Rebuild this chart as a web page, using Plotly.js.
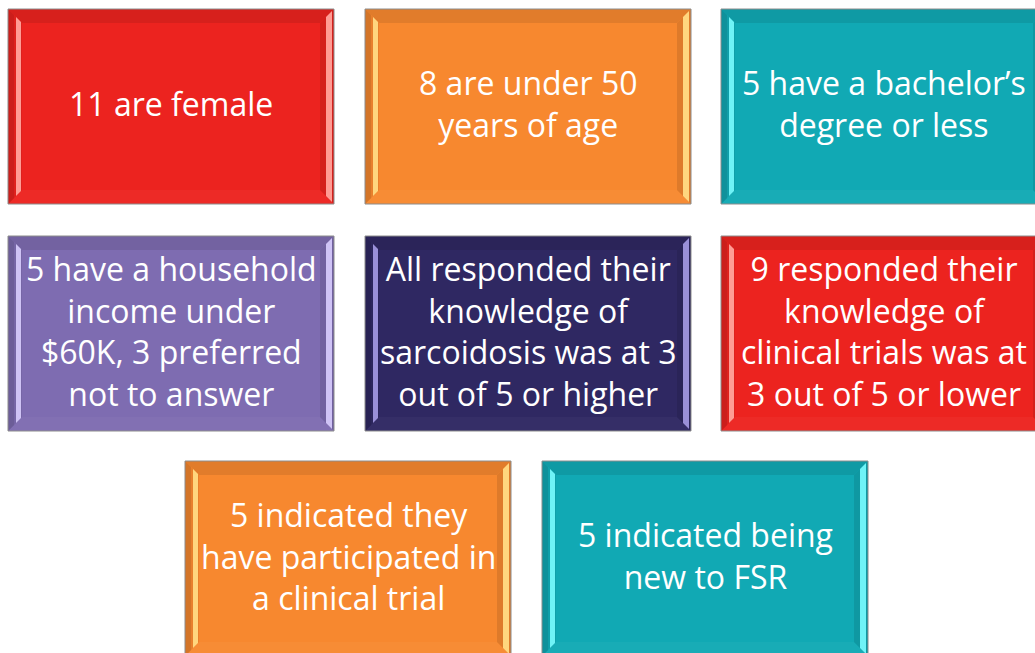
<!DOCTYPE html>
<html>
<head>
<meta charset="utf-8">
<script src="https://cdn.plot.ly/plotly-3.0.1.min.js"></script>
<style>html,body{margin:0;padding:0;background:#fff;}#chart{width:1035px;height:653px;}</style>
</head>
<body>
<div id="chart"></div>
<script>
// ---- content ----
const boxTexts = [
  "11 are female",
  "8 are under 50<br>years of age",
  "5 have a bachelor\u2019s<br>degree or less",
  "5 have a household<br>income under<br>$60K, 3 preferred<br>not to answer",
  "All responded their<br>knowledge of<br>sarcoidosis was at 3<br>out of 5 or higher",
  "9 responded their<br>knowledge of<br>clinical trials was at<br>3 out of 5 or lower",
  "5 indicated they<br>have participated in<br>a clinical trial",
  "5 indicated being<br>new to FSR"
];
const rowSizes = [3, 3, 2];

// ---- palette ----
const baseColors = ["#EC231F", "#F7882F", "#11A9B4", "#7E6CB1", "#2F2862", "#EC231F", "#F7882F", "#11A9B4"];
const glowColors = ["#FF9C94", "#FFD67E", "#6FF3F7", "#CFC3F5", "#9A90D8", "#FF9C94", "#FFD67E", "#6FF3F7"];

function hexToRgb(h){h=h.replace('#','');return [parseInt(h.substr(0,2),16),parseInt(h.substr(2,2),16),parseInt(h.substr(4,2),16)];}
function shade(h, f){ // f<0 darken, f>0 lighten
  const c = hexToRgb(h).map(v => f<0 ? Math.round(v*(1+f)) : Math.round(v + (255-v)*f));
  return 'rgb(' + c.join(',') + ')';
}
function poly(pts){ return 'M' + pts.map(p => p[0]+','+p[1]).join(' L') + ' Z'; }

const W = 326, H = 195, B = 14;
const colX = [[8, 365, 721], [8, 365, 721], [185, 542]];
const rowY = [9, 236, 461];

const shapes = [];
const annotations = [];
let k = 0;
rowSizes.forEach((n, r) => {
  for (let c = 0; c < n; c++, k++) {
    const x0 = colX[r][c], y0 = rowY[r], x1 = x0 + W, y1 = y0 + H;
    const base = baseColors[k], glow = glowColors[k];
    const add = (pts, fill) => shapes.push({type:'path', xref:'x', yref:'y', path: poly(pts), fillcolor: fill, line:{width:0}, layer:'below'});
    // face
    add([[x0,y0],[x1,y0],[x1,y1],[x0,y1]], base);
    // top bevel
    add([[x0,y0],[x1,y0],[x1-B,y0+B],[x0+B,y0+B]], shade(base,-0.09));
    // bottom bevel
    add([[x0,y1],[x1,y1],[x1-B,y1-B],[x0+B,y1-B]], shade(base,0.03));
    // left bevel
    add([[x0,y0],[x0+B,y0+B],[x0+B,y1-B],[x0,y1]], shade(base,-0.06));
    add([[x0,y0],[x0+6,y0+6],[x0+6,y1-6],[x0,y1]], shade(base,-0.14));
    add([[x0+B-6,y0+B-6],[x0+B-1,y0+B-1],[x0+B-1,y1-B+1],[x0+B-6,y1-B+6]], glow);
    // right bevel
    add([[x1,y0],[x1-B,y0+B],[x1-B,y1-B],[x1,y1]], shade(base,-0.1));
    add([[x1-2,y0+2],[x1-8,y0+8],[x1-8,y1-8],[x1-2,y1-2]], glow);
    // outline
    shapes.push({type:'rect', xref:'x', yref:'y', x0:x0, y0:y0, x1:x1, y1:y1, fillcolor:'rgba(0,0,0,0)', line:{color:'#8C8C8C', width:1}, layer:'below'});
    annotations.push({
      xref:'x', yref:'y', x:(x0+x1)/2, y:(y0+y1)/2 - 3, xanchor:'center', yanchor:'middle',
      text: boxTexts[k], showarrow:false, align:'center',
      font:{family:'"Open Sans", Lato, sans-serif', size:32, color:'#FFFFFF'}
    });
  }
});

const layout = {
  width:1035, height:653,
  margin:{l:0, r:0, t:0, b:0, pad:0},
  paper_bgcolor:'#FFFFFF', plot_bgcolor:'#FFFFFF',
  xaxis:{range:[0,1035], visible:false, fixedrange:true},
  yaxis:{range:[653,0], visible:false, fixedrange:true},
  shapes: shapes,
  annotations: annotations,
  showlegend:false
};
Plotly.newPlot('chart', [], layout, {displayModeBar:false, staticPlot:true});
</script>
</body>
</html>
